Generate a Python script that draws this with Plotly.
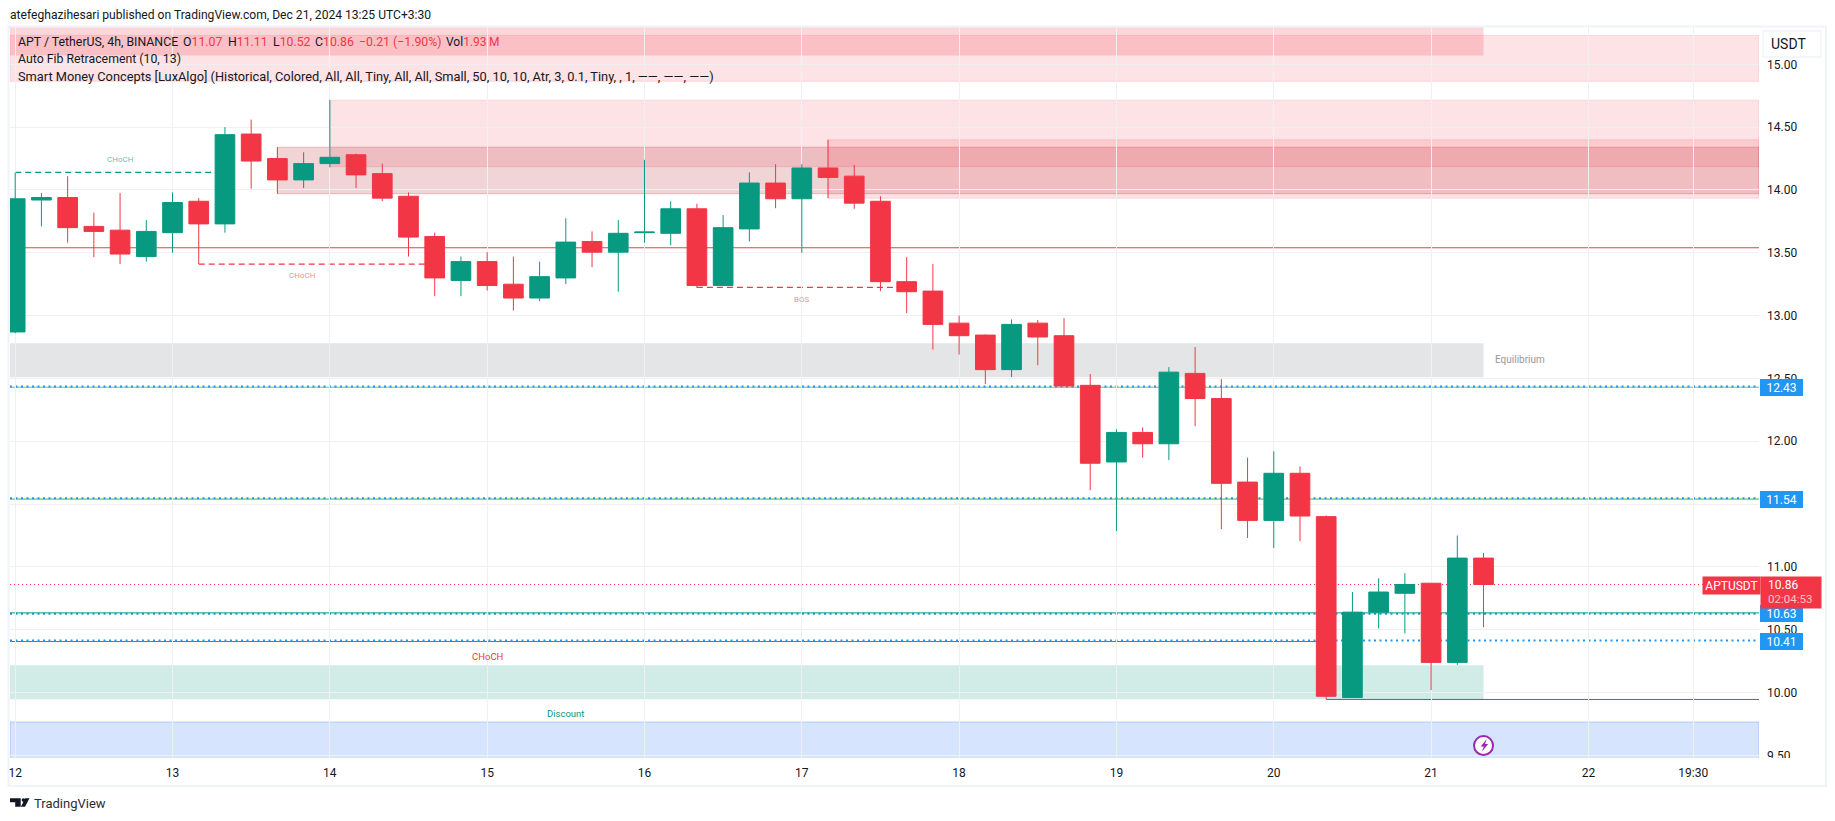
import plotly.graph_objects as go

# ---------- data ----------
BAR = list(range(57))
OPEN = [12.87,13.92,13.94,13.71,13.68,13.47,13.66,13.91,13.73,14.445,14.25,14.08,14.21,14.28,14.13,13.95,13.63,
        13.28,13.43,13.25,13.14,13.30,13.59,13.505,13.66,13.655,13.85,13.24,13.69,14.055,13.93,14.175,14.11,13.91,
        13.27,13.195,12.94,12.845,12.57,12.94,12.84,12.445,11.835,12.07,11.98,12.54,12.34,11.675,11.37,11.745,
        11.40,9.96,10.64,10.79,10.87,10.24,11.07]
HIGH = [14.14,13.975,14.11,13.82,13.975,13.76,13.98,13.935,14.50,14.56,14.34,14.30,14.715,14.29,14.21,13.98,13.66,
        13.47,13.505,13.47,13.43,13.775,13.67,13.76,14.24,13.91,13.89,13.80,14.14,14.205,14.205,14.40,14.20,13.95,
        13.465,13.41,13.00,12.85,12.97,12.965,12.98,12.535,12.095,12.11,12.59,12.75,12.495,11.87,11.92,11.80,
        11.41,10.80,10.91,10.95,10.87,11.25,11.11]
LOW = [12.86,13.71,13.58,13.465,13.41,13.43,13.50,13.41,13.66,14.01,13.97,14.015,14.18,14.015,13.91,13.47,13.155,
       13.155,13.20,13.04,13.115,13.25,13.385,13.19,13.58,13.56,13.22,13.24,13.59,13.855,13.50,13.935,13.85,13.195,
       13.02,12.73,12.69,12.455,12.51,12.605,12.44,11.61,11.285,11.87,11.85,12.12,11.30,11.23,11.15,11.205,
       9.945,9.96,10.51,10.47,10.02,10.22,10.52]
CLOSE = [13.93,13.94,13.70,13.67,13.49,13.67,13.90,13.73,14.44,14.23,14.08,14.21,14.26,14.12,13.935,13.625,13.30,
         13.43,13.24,13.14,13.31,13.585,13.505,13.655,13.665,13.85,13.24,13.70,14.055,13.93,14.175,14.10,13.895,13.27,
         13.19,12.93,12.84,12.57,12.93,12.83,12.44,11.825,12.07,11.98,12.55,12.34,11.665,11.37,11.745,11.405,
         9.97,10.64,10.80,10.86,10.24,11.07,10.86]

DAY_TICK_BARS = [0,6,12,18,24,30,36,42,48,54,60,64]
DAY_TICK_TEXT = ["12","13","14","15","16","17","18","19","20","21","22","19:30"]
PRICE_TICKS = [9.5,10,10.5,11,11.5,12,12.5,13,13.5,14,14.5,15]
PRICE_TICK_TEXT = ["9.50","10.00","10.50","11.00","11.50","12.00","12.50","13.00","13.50","14.00","14.50","15.00"]

# zones: (first bar, last bar, lower price, upper price)
ZONE_SUPPLY_FULL = (None, None, 14.865, 15.23)
ZONE_SUPPLY_TOP = (None, 56, 15.07, 15.6)
ZONE_OB_1 = (12, None, 14.185, 14.715)
ZONE_OB_2 = (10, None, 13.97, 14.34)
ZONE_OB_3 = (31, None, 13.935, 14.40)
ZONE_EQUILIBRIUM = (None, 56, 12.51, 12.78)
ZONE_DISCOUNT = (None, 56, 9.947, 10.217)
ZONE_BLUE = (None, None, 9.2, 9.766)

# levels
LEVEL_RED_MID = 13.54
LEVEL_1243 = 12.43
LEVEL_1154 = 11.54
LEVEL_1063 = 10.63
LEVEL_1041 = 10.41
LEVEL_LAST = 10.86
LEVEL_LOW = 9.945
DASH_GREEN = (0, 8, 14.14)
DASH_RED = (7, 16, 13.41)
DASH_BOS = (26, 34, 13.225)

# ---------- style ----------
W, H = 1835, 821
PL, PR, PT, PB = 10, 1759, 27, 758
XMIN, XMAX = -0.198, 66.506
YMIN, YMAX = 9.479, 15.297
UP, DOWN, INK, BLUE = "#089981", "#f23645", "#131722", "#2196f3"
FONT = "Roboto"


def fx(p):
    return (p - PL) / (PR - PL)


def fy(p):
    return (PB - p) / (PB - PT)


def poly(points):
    cmds = [("M" if k == 0 else "L") + f"{fx(a):.6f},{fy(b):.6f}" for k, (a, b) in enumerate(points)]
    return " ".join(cmds) + " Z"


shapes = []


def zone(z, fill, edge=None):
    x0 = XMIN if z[0] is None else z[0]
    x1 = XMAX if z[1] is None else z[1]
    shapes.append(dict(type="rect", xref="x", yref="y", x0=x0, x1=x1, y0=z[2], y1=z[3],
                       fillcolor=fill, layer="below",
                       line=dict(color=edge or "rgba(0,0,0,0)", width=1 if edge else 0)))


def hline(y, color, width=1, dash="solid", x0=XMIN, x1=XMAX):
    shapes.append(dict(type="line", xref="x", yref="y", x0=x0, x1=x1, y0=y, y1=y, layer="below",
                       line=dict(color=color, width=width, dash=dash)))


zone(ZONE_SUPPLY_FULL, "rgba(242,54,69,0.14)", "rgba(242,54,69,0.15)")
zone(ZONE_SUPPLY_TOP, "rgba(242,54,69,0.2)")
zone(ZONE_OB_1, "rgba(242,54,69,0.14)", "rgba(242,54,69,0.15)")
zone(ZONE_OB_2, "rgba(178,40,51,0.2)", "rgba(178,40,51,0.25)")
zone(ZONE_OB_3, "rgba(242,54,69,0.14)", "rgba(242,54,69,0.15)")
zone(ZONE_EQUILIBRIUM, "rgba(120,123,134,0.2)")
zone(ZONE_DISCOUNT, "rgba(8,153,129,0.19)")
zone(ZONE_BLUE, "rgba(39,113,244,0.19)", "rgba(39,113,244,0.28)")

hline(LEVEL_RED_MID, "#e8413f", 1)
hline(LEVEL_1243, "#7fb58a", 1)
hline(LEVEL_1243 + 0.006, BLUE, 2, "2px,3.5px")
hline(LEVEL_1154, "#4caf50", 1)
hline(LEVEL_1154 + 0.006, BLUE, 2, "2px,3.5px")
hline(LEVEL_1063 - 0.002, BLUE, 2, "2px,3.5px")
hline(LEVEL_1063 + 0.004, UP, 1)
hline(LEVEL_1041 - 0.004, "#e8413f", 1, x1=50)
hline(LEVEL_1041 + 0.004, BLUE, 2, "2px,3.5px")
hline(LEVEL_LAST, DOWN, 1, "1px,3px")
hline(LEVEL_LOW, "#178a72", 1, x0=50)
for d, col in ((DASH_GREEN, UP), (DASH_RED, DOWN), (DASH_BOS, DOWN)):
    hline(d[2], col, 1.2, "6px,4px", x0=d[0], x1=d[1])

# chrome drawn over the axes: frame and the clip under the price axis
FRAME = "#f0f3fa"
LOGO = "#131722"
shapes += [
    dict(type="rect", xref="paper", yref="paper", x0=fx(PR), x1=fx(1825), y0=fy(786), y1=fy(758),
         fillcolor="#ffffff", line=dict(width=0)),
    dict(type="rect", xref="paper", yref="paper", x0=fx(8.5), x1=fx(1826), y0=fy(786), y1=fy(26.5),
         fillcolor="rgba(0,0,0,0)", line=dict(color=FRAME, width=2)),
    dict(type="rect", xref="paper", yref="paper", x0=fx(1763), x1=fx(1821), y0=fy(57), y1=fy(31),
         fillcolor="#ffffff", line=dict(color=FRAME, width=1.5)),
    dict(type="path", xref="paper", yref="paper", fillcolor=LOGO, line=dict(width=0),
         path=poly([(10, 798.3), (20.7, 798.3), (20.7, 806.7), (15.2, 806.7), (15.2, 802.2), (10, 802.2)])),
    dict(type="path", xref="paper", yref="paper", fillcolor=LOGO, line=dict(width=0),
         path=poly([(25.2, 798.3), (29.5, 798.3), (25, 806.7), (20.9, 806.7)])),
    dict(type="circle", xref="paper", yref="paper", x0=fx(21.6), x1=fx(25.2), y0=fy(801.9), y1=fy(798.3),
         fillcolor=LOGO, line=dict(width=0)),
    # bolt of the purple event badge
    dict(type="path", xref="paper", yref="paper", fillcolor="#9c27b0", line=dict(width=0),
         path=poly([(1486.8, 739), (1480.6, 746.6), (1483.8, 746.6), (1482, 751.6),
                    (1488.2, 744), (1485, 744)])),
]

annotations = []


def page_text(x, y, text, size=13, color=INK, anchor="left", font=FONT):
    annotations.append(dict(xref="paper", yref="paper", x=fx(x), y=fy(y), text=text, showarrow=False,
                            xanchor=anchor, yanchor="middle", align="left",
                            font=dict(family=font, size=size, color=color),
                            borderpad=0, borderwidth=0))


def data_text(i, p, text, size, color):
    annotations.append(dict(xref="x", yref="y", x=i, y=p, text=text, showarrow=False,
                            font=dict(family=FONT, size=size, color=color)))


def price_tag(p, text, color=BLUE, x=1760, w=43, h=17, fc="#ffffff", size=12):
    annotations.append(dict(xref="paper", yref="y", x=fx(x), y=p, text=text, showarrow=False,
                            xanchor="left", yanchor="middle", width=w, height=h, bgcolor=color,
                            align="center", valign="middle", borderpad=0, borderwidth=0,
                            font=dict(family=FONT, size=size, color=fc)))


def red(s):
    return f'<span style="color:{DOWN}">{s}</span>'


LEG = 12.3
page_text(10, 15, "atefeghazihesari published on TradingView.com, Dec 21, 2024 13:25 UTC+3:30", 12.1)
page_text(18, 41.5, "APT / TetherUS, 4h, BINANCE", LEG)
page_text(183, 41.5, "O" + red("11.07"), LEG)
page_text(228, 41.5, "H" + red("11.11"), LEG)
page_text(273, 41.5, "L" + red("10.52"), LEG)
page_text(315, 41.5, "C" + red("10.86"), LEG)
page_text(359, 41.5, red("\u22120.21 (\u22121.90%)"), LEG)
page_text(446, 41.5, "Vol" + red("1.93\u2009M"), 12)
page_text(18, 59, "Auto Fib Retracement (10, 13)", LEG)
page_text(18, 76, "Smart Money Concepts [LuxAlgo] (Historical, Colored, All, All, Tiny, All, All, Small, 50, 10, 10, "
          "Atr, 3, 0.1, Tiny, , 1, \u2014\u2014, \u2014\u2014, \u2014\u2014)", 12.8)
page_text(1788, 44, "USDT", 14, anchor="center")
page_text(34, 804, "TradingView", 13, "#2a2e39")

data_text(4, 14.24, "CHoCH", 8, "rgba(8,153,129,0.65)")
data_text(10.94, 13.32, "CHoCH", 8, "rgba(242,54,69,0.6)")
data_text(30, 13.13, "BOS", 8, "rgba(242,54,69,0.6)")
data_text(18, 10.29, "CHoCH", 9.5, DOWN)
data_text(21, 9.835, "Discount", 9.5, UP)
data_text(57.4, 12.65, "Equilibrium", 10, "#9598a1")

price_tag(LEVEL_1243, "12.43")
price_tag(LEVEL_1154, "11.54")
price_tag(LEVEL_1063, "10.63")
price_tag(LEVEL_1041, "10.41")
annotations.append(dict(xref="paper", yref="paper", x=fx(1760), y=fy(576), text="", showarrow=False,
                        xanchor="left", yanchor="top", width=60, height=31, bgcolor=DOWN, borderpad=0))
page_text(1783, 584.5, "10.86", 12, "#ffffff", "center")
page_text(1790, 598.5, "02:04:53", 11.5, "#fbc4c9", "center")
annotations.append(dict(xref="paper", yref="paper", x=fx(1702), y=fy(576), text="APTUSDT", showarrow=False,
                        xanchor="left", yanchor="top", width=57, height=17, bgcolor=DOWN, borderpad=0,
                        font=dict(family=FONT, size=12, color="#ffffff")))

fig = go.Figure()
fig.add_trace(go.Candlestick(
    x=BAR, open=OPEN, high=HIGH, low=LOW, close=CLOSE, whiskerwidth=0,
    increasing=dict(line=dict(color=UP, width=1), fillcolor=UP),
    decreasing=dict(line=dict(color=DOWN, width=1), fillcolor=DOWN),
    hoverinfo="skip", showlegend=False))
fig.add_trace(go.Scatter(
    x=[56], y=[9.578], mode="markers", hoverinfo="skip", showlegend=False,
    marker=dict(size=19, color="#ffffff", line=dict(color="#9c27b0", width=2))))

GRID = "#f0f0f2"
fig.update_layout(
    width=W, height=H, autosize=False, boxgap=0.25, boxgroupgap=0,
    margin=dict(l=PL, r=W - PR, t=PT, b=H - PB, pad=0),
    paper_bgcolor="#ffffff", plot_bgcolor="#ffffff", showlegend=False,
    font=dict(family=FONT, color=INK, size=12),
    shapes=shapes, annotations=annotations,
    xaxis=dict(range=[XMIN, XMAX], tickmode="array", tickvals=DAY_TICK_BARS, ticktext=DAY_TICK_TEXT,
               showgrid=True, gridcolor=GRID, gridwidth=1, zeroline=False, showline=False, automargin=False,
               rangeslider=dict(visible=False), ticks="", ticklabelstandoff=6,
               tickfont=dict(family=FONT, size=12, color=INK)),
    yaxis=dict(range=[YMIN, YMAX], side="right", tickmode="array", tickvals=PRICE_TICKS,
               ticktext=PRICE_TICK_TEXT, showgrid=True, gridcolor=GRID, gridwidth=1, zeroline=False,
               showline=False, automargin=False, ticks="", ticklabelstandoff=7,
               tickfont=dict(family=FONT, size=12, color=INK)),
)

fig.write_html("out.html", config=dict(displayModeBar=False),
               post_script="document.body.style.margin='0';document.body.style.overflow='hidden';")
